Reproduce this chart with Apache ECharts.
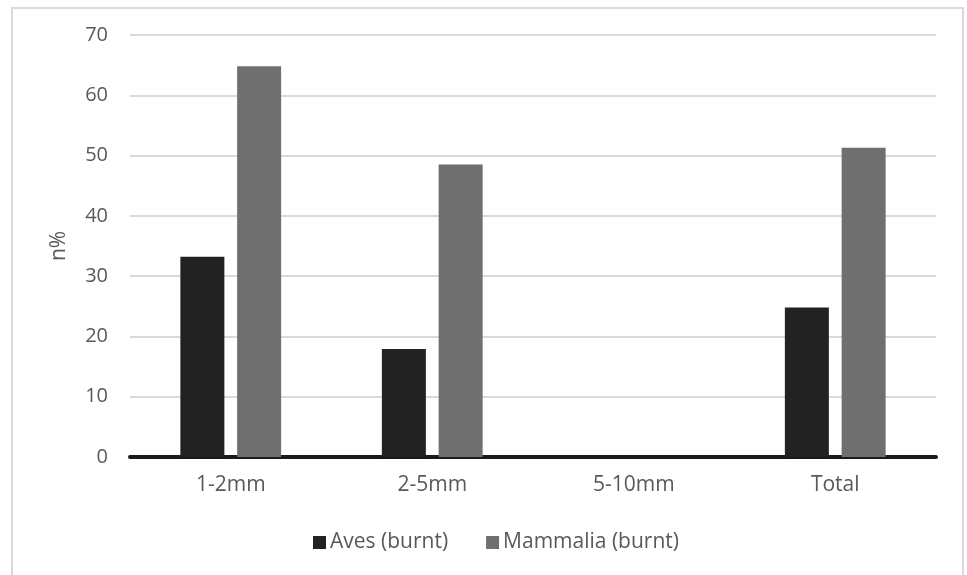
<!DOCTYPE html>
<html>
<head>
<meta charset="utf-8">
<script src="https://cdn.jsdelivr.net/npm/echarts@6/dist/echarts.min.js"></script>
<style>
html,body{margin:0;padding:0;background:#fff;}
#chart{width:967px;height:575px;}
</style>
</head>
<body>
<div id="chart"></div>
<script>
const categories = ['1-2mm', '2-5mm', '5-10mm', 'Total'];
const avesBurnt = [33.2, 17.9, 0, 24.8];
const mammaliaBurnt = [64.8, 48.5, 0, 51.3];
const yTicks = [0, 10, 20, 30, 40, 50, 60, 70];

const chart = echarts.init(document.getElementById('chart'));
const font = '"Open Sans", "DejaVu Sans", sans-serif';
chart.setOption({
  animation: false,
  backgroundColor: '#ffffff',
  graphic: [{
    type: 'rect',
    shape: { x: 12, y: 8, width: 951, height: 620 },
    style: { fill: 'none', stroke: '#d9d9d9', lineWidth: 2 },
    silent: true
  }],
  grid: { left: 130, right: 31, top: 35, bottom: 118 },
  legend: {
    data: ['Aves (burnt)', 'Mammalia (burnt)'],
    left: 308,
    top: 527,
    itemWidth: 13,
    itemHeight: 13,
    itemGap: 38,
    icon: 'rect',
    textStyle: { fontFamily: font, fontSize: 21, color: '#595959', padding: [0, 0, 0, -1] }
  },
  xAxis: {
    type: 'category',
    data: categories,
    axisLine: { lineStyle: { color: '#1a1a1a', width: 4 } },
    axisTick: { show: false },
    axisLabel: { fontFamily: font, fontSize: 21, color: '#595959', margin: 18 }
  },
  yAxis: {
    type: 'value',
    min: yTicks[0],
    max: yTicks[yTicks.length - 1],
    interval: 10,
    name: 'n%',
    nameLocation: 'middle',
    nameGap: 60,
    nameRotate: 90,
    nameTextStyle: { fontFamily: font, fontSize: 21, color: '#595959' },
    axisLine: { show: false },
    axisTick: { show: false },
    axisLabel: { fontFamily: font, fontSize: 20, color: '#595959', margin: 22 },
    splitLine: { lineStyle: { color: '#d9d9d9', width: 2 } }
  },
  series: [
    {
      name: 'Aves (burnt)',
      type: 'bar',
      data: avesBurnt,
      barWidth: 44,
      barGap: '29%',
      itemStyle: { color: '#222222' }
    },
    {
      name: 'Mammalia (burnt)',
      type: 'bar',
      data: mammaliaBurnt,
      barWidth: 44,
      barGap: '29%',
      itemStyle: { color: '#6f6f6f' }
    }
  ]
});
</script>
</body>
</html>
